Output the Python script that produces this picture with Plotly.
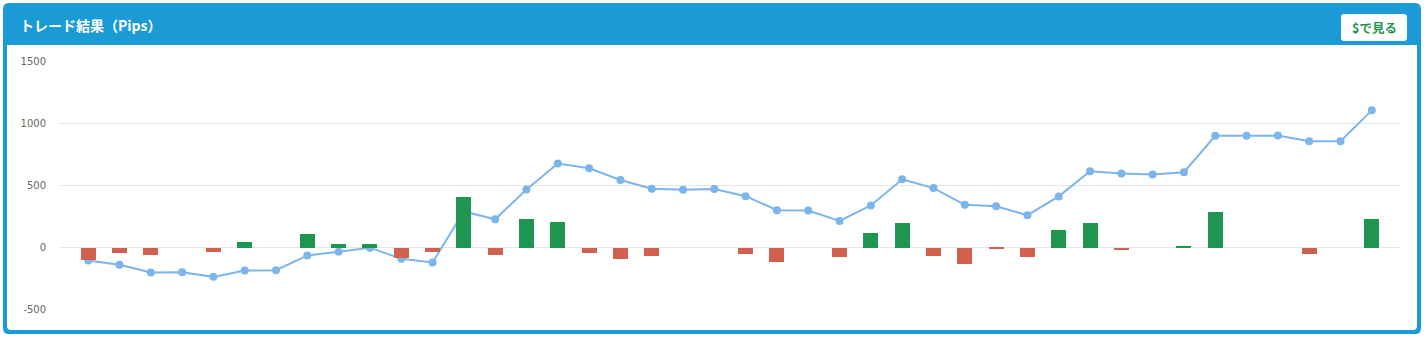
import plotly.graph_objects as go

W, H = 1427, 341

# ---- data ----
categories = [str(i) for i in range(1, 43)]
trade_pips = [-100, -41, -62, 0, -32, 46, 0, 111, 27, 32,
              -84, -35, 411, -62, 232, 208, -41, -89, -70, 0,
              0, -54, -114, 0, -73, 119, 200, -70, -130, -11,
              -73, 143, 200, -19, 0, 10, 287, 0, 0, -51,
              0, 233]
cumulative_pips = [-105, -140, -203, -200, -238, -187, -184, -65, -35, -2,
                   -92, -122, 290, 227, 468, 677, 639, 544, 474, 466,
                   471, 414, 301, 298, 214, 339, 550, 479, 344, 333,
                   260, 412, 615, 596, 588, 607, 901, 901, 903, 858,
                   858, 1107]
y_tickvals = [-500, 0, 500, 1000, 1500]
y_ticktext = ["-500", "0", "500", "1000", "1500"]

title_text = "トレード結果（Pips）"
button_text = "$で見る"

GREEN = "#1e9650"
RED = "#d2604f"
LINE = "#7cb5ec"
BLUE = "#1b9bd6"


def px(x):
    return x / W


def py(y):
    return 1 - y / H


def rounded_rect(x0, y0, x1, y1, rt, rb):
    """pixel coords (y down) -> paper path with rounded corners"""
    pts = []
    pts.append(f"M{px(x0 + rt)},{py(y0)}")
    pts.append(f"L{px(x1 - rt)},{py(y0)}")
    pts.append(f"Q{px(x1)},{py(y0)} {px(x1)},{py(y0 + rt)}")
    pts.append(f"L{px(x1)},{py(y1 - rb)}")
    pts.append(f"Q{px(x1)},{py(y1)} {px(x1 - rb)},{py(y1)}")
    pts.append(f"L{px(x0 + rb)},{py(y1)}")
    pts.append(f"Q{px(x0)},{py(y1)} {px(x0)},{py(y1 - rb)}")
    pts.append(f"L{px(x0)},{py(y0 + rt)}")
    pts.append(f"Q{px(x0)},{py(y0)} {px(x0 + rt)},{py(y0)}")
    pts.append("Z")
    return " ".join(pts)


bar_colors = [GREEN if v > 0 else RED for v in trade_pips]

fig = go.Figure()
fig.add_trace(go.Scatter(
    x=categories, y=cumulative_pips, mode="lines+markers",
    line=dict(color=LINE, width=2),
    marker=dict(color=LINE, size=8),
    xaxis="x", yaxis="y", showlegend=False, hoverinfo="y",
))
fig.add_trace(go.Bar(
    x=categories, y=trade_pips, marker=dict(color=bar_colors, line=dict(width=0)),
    width=0.48, xaxis="x", yaxis="y2", showlegend=False, hoverinfo="y",
))

shapes = [
    dict(type="path", xref="paper", yref="paper", layer="below",
         path=rounded_rect(3, 3, 1421, 334, 6, 6), fillcolor=BLUE, line=dict(width=0)),
    dict(type="path", xref="paper", yref="paper", layer="below",
         path=rounded_rect(7, 45, 1417, 330, 0, 4), fillcolor="white", line=dict(width=0)),
    dict(type="path", xref="paper", yref="paper", layer="above",
         path=rounded_rect(1341, 14, 1407, 41, 3, 3), fillcolor="white", line=dict(width=0)),
]

annotations = [
    dict(x=px(18), y=py(25), xref="paper", yref="paper", text=f"<b>{title_text}</b>",
         showarrow=False, xanchor="left", yanchor="middle",
         font=dict(family="Noto Sans CJK JP", size=14, color="white")),
    dict(x=px(1374), y=py(27.5), xref="paper", yref="paper", text=f"<b>{button_text}</b>",
         showarrow=False, xanchor="center", yanchor="middle",
         font=dict(family="Noto Sans CJK JP", size=12.5, color=GREEN)),
]

fig.update_layout(
    width=W, height=H,
    autosize=False,
    margin=dict(l=0, r=0, t=0, b=0, pad=0, autoexpand=False),
    paper_bgcolor="white",
    plot_bgcolor="rgba(0,0,0,0)",
    bargap=0,
    shapes=shapes,
    annotations=annotations,
    xaxis=dict(type="category", domain=[px(60), px(1400)], range=[-0.9, 41.9],
               showticklabels=False, showgrid=False, zeroline=False, ticks="",
               automargin=False),
    yaxis=dict(domain=[1 - 309.3 / H, 1 - 61.7 / H], range=[-500, 1500],
               tickvals=y_tickvals, ticktext=y_ticktext,
               showgrid=True, gridcolor="#e6e6e6", gridwidth=1,
               zeroline=True, zerolinecolor="#e6e6e6", zerolinewidth=1,
               ticks="", ticklabelstandoff=13, automargin=False,
               tickfont=dict(family="DejaVu Sans", size=10, color="#666666")),
    yaxis2=dict(overlaying="y", range=[-500, 1500], visible=False,
                showgrid=False, zeroline=False, automargin=False),
)

fig.write_html("out.html", config={"displayModeBar": False})
